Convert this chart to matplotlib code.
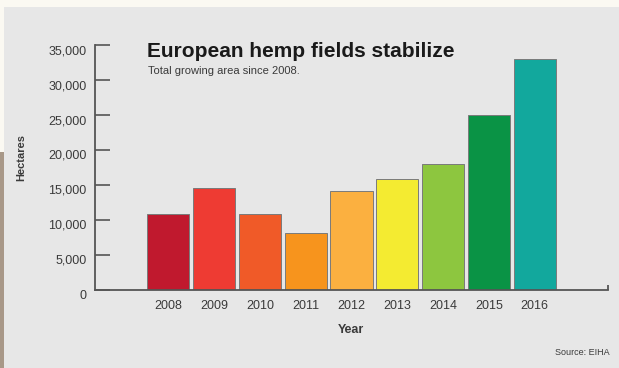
import matplotlib
matplotlib.use('Agg')
import matplotlib.pyplot as plt
from matplotlib.patches import Rectangle
from matplotlib.ticker import FuncFormatter

years = ['2008', '2009', '2010', '2011', '2012', '2013', '2014', '2015', '2016']
hectares = [10900, 14500, 10900, 8200, 14100, 15900, 18000, 25000, 33000]
bar_colors = ['#c0192e', '#ee3b33', '#f05a28', '#f7941d', '#fbb040',
              '#f4eb31', '#8dc63f', '#0a9345', '#12a89d']
y_ticks = [0, 5000, 10000, 15000, 20000, 25000, 30000, 35000]

plt.rcParams['font.family'] = ['Liberation Sans', 'DejaVu Sans']
text_col = '#3a3a3a'
card_col = '#e7e7e7'

fig = plt.figure(figsize=(6.19, 3.68), dpi=100)
fig.patch.set_facecolor(card_col)

# page around the card: cream strip on top, textured brown on the left
fig.patches.append(Rectangle((0, 0.981), 1, 0.019, transform=fig.transFigure,
                             facecolor='#fbf9f2', edgecolor='none', zorder=0))
fig.patches.append(Rectangle((0, 0.587), 0.007, 0.4, transform=fig.transFigure,
                             facecolor='#fbf9f2', edgecolor='none', zorder=0))
fig.patches.append(Rectangle((0, 0), 0.007, 0.587, transform=fig.transFigure,
                             facecolor='#a89888', edgecolor='none', zorder=0))

ax = fig.add_axes([0.1535, 0.212, 0.8285, 0.6657])
ax.set_facecolor(card_col)

x = list(range(len(years)))
ax.bar(x, hectares, width=0.92, color=bar_colors, edgecolor='#7a7a7a', linewidth=0.7, zorder=2)

ax.set_xlim(-1.6, 9.6)
ax.set_ylim(0, 35000)
ax.set_yticks(y_ticks)
ax.yaxis.set_major_formatter(FuncFormatter(lambda v, p: f'{int(v):,}'))
ax.set_xticks(x)
ax.set_xticklabels(years)

for side in ['top', 'right']:
    ax.spines[side].set_visible(False)
for side in ['left', 'bottom']:
    ax.spines[side].set_color('#555555')
    ax.spines[side].set_linewidth(1.3)

ax.tick_params(axis='y', direction='in', length=11, width=1.2, color='#555555',
               labelsize=9, labelcolor=text_col, pad=6)
ax.tick_params(axis='x', length=0, labelsize=9, labelcolor=text_col, pad=7)
for lab in ax.get_yticklabels():
    lab.set_va('top')

# small end tick on the right of the x axis
ax.plot([1, 1], [0, 0.02], transform=ax.transAxes, color='#555555', lw=1.3,
        clip_on=False, solid_capstyle='butt')

ax.set_xlabel('Year', fontsize=9, fontweight='bold', color=text_col, labelpad=9)
fig.text(0.034, 0.572, 'Hectares', rotation=90, fontsize=8, fontweight='bold',
         color=text_col, ha='center', va='center')

fig.text(0.238, 0.845, 'European hemp fields stabilize', fontsize=15,
         fontweight='bold', color='#1a1a1a')
fig.text(0.239, 0.799, 'Total growing area since 2008.', fontsize=8, color=text_col)
fig.text(0.985, 0.036, 'Source: EIHA', fontsize=6.5, color=text_col, ha='right')

fig.savefig('out.png', dpi=100, facecolor=fig.get_facecolor())
